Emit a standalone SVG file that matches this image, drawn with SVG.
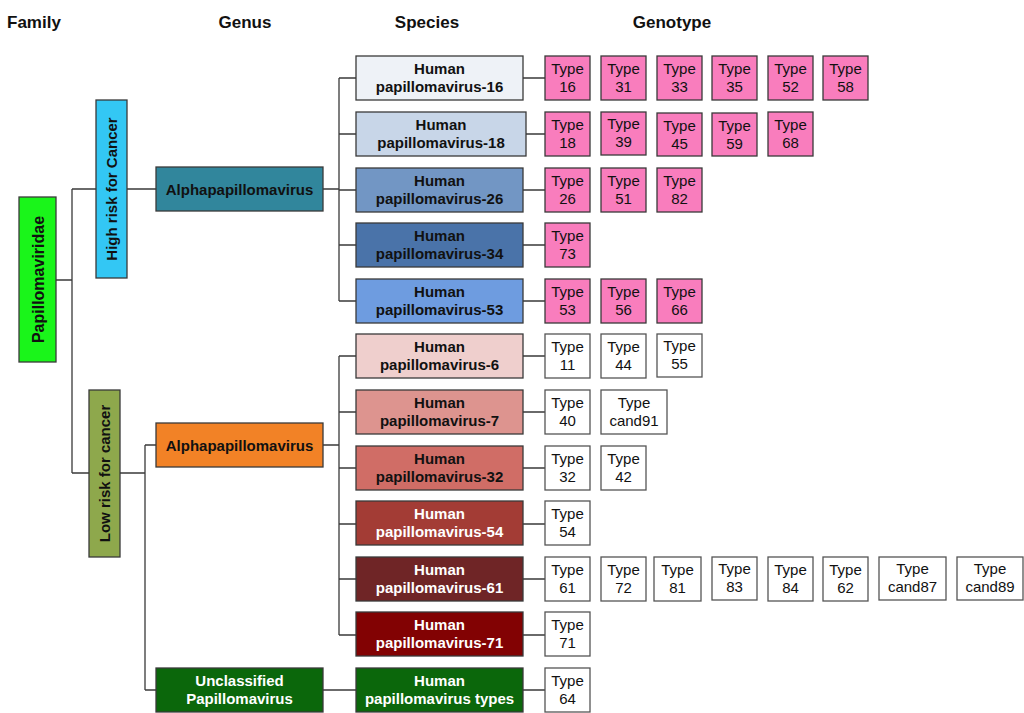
<svg xmlns="http://www.w3.org/2000/svg" width="1024" height="713" viewBox="0 0 1024 713">
<style>
.hdr{font-family:"Liberation Sans",Arial,sans-serif;font-weight:bold;font-size:17px;fill:#111}
.b{font-family:"Liberation Sans",Arial,sans-serif;font-weight:bold;font-size:15px;text-anchor:middle}
.t{font-family:"Liberation Sans",Arial,sans-serif;font-size:15px;text-anchor:middle;fill:#111}
.box{stroke:#3a3a3a;stroke-width:1.3}
.pink{fill:#f97dbd;stroke:#3a3a3a;stroke-width:1.3}
.white{fill:#fff;stroke:#555;stroke-width:1.3}
.blk{fill:#111}
.wht{fill:#fff}
#connectors path{fill:none;stroke:#3a3a3a;stroke-width:1.3}
</style>
<rect width="1024" height="713" fill="#fff"/>
<g id="headers">
<text class="hdr" x="7" y="28">Family</text>
<text class="hdr" x="245" y="28" text-anchor="middle">Genus</text>
<text class="hdr" x="427" y="28" text-anchor="middle">Species</text>
<text class="hdr" x="672" y="28" text-anchor="middle">Genotype</text>
</g>
<g id="connectors">
<path d="M56 280H72M72 189V473M72 189H96M72 473H89"/>
<path d="M127 189H156M323 189H339M339 78V301M339 78H356M339 134H356M339 190H356M339 245H356M339 301H356"/>
<path d="M120 473H145M145 445V690M145 445H156M145 690H156"/>
<path d="M323 445H339M339 356V635M339 356H356M339 412H356M339 468H356M339 524H356M339 579H356M339 635H356"/>
<path d="M323 690H356"/>
<path d="M523 78H545M526 134H545M523 190H545M523 245H545M523 301H545"/>
<path d="M523 356H545M523 412H545M523 468H545M523 524H545M523 579H545M523 635H545M523 690H545"/>
</g>
<g id="family">
<rect class="box" x="19" y="197" width="37" height="165" fill="#1af51a"/>
<text class="b blk" transform="translate(43.5 279.5) rotate(-90)" style="font-size:16px">Papillomaviridae</text>
</g>
<g id="high-risk">
<rect class="box" x="96" y="100" width="31" height="178" fill="#33c7f4"/>
<text class="b blk" transform="translate(117 189) rotate(-90)">High risk for Cancer</text>
</g>
<g id="low-risk">
<rect class="box" x="89" y="390" width="31" height="167" fill="#8ea84c"/>
<text class="b blk" transform="translate(110 473.5) rotate(-90)">Low risk for cancer</text>
</g>
<g id="genus-alpha-high">
<rect class="box" x="156" y="167" width="167" height="44" fill="#31869c"/>
<text class="b blk" x="239.5" y="194.5">Alphapapillomavirus</text>
</g>
<g id="genus-alpha-low">
<rect class="box" x="156" y="423" width="167" height="44" fill="#f28226"/>
<text class="b blk" x="239.5" y="450.5">Alphapapillomavirus</text>
</g>
<g id="genus-unclassified">
<rect class="box" x="156" y="668" width="167" height="44" fill="#0b670b"/>
<text class="b wht" x="239.5" y="686">Unclassified</text>
<text class="b wht" x="239.5" y="704">Papillomavirus</text>
</g>
<g id="hpv16"><rect class="box" x="356" y="56" width="167" height="44" fill="#eef2f7"/><text class="b blk" x="439.5" y="74">Human</text><text class="b blk" x="439.5" y="92">papillomavirus-16</text></g>
<g id="hpv18"><rect class="box" x="356" y="112" width="170" height="44" fill="#c8d6e8"/><text class="b blk" x="441" y="130">Human</text><text class="b blk" x="441" y="148">papillomavirus-18</text></g>
<g id="hpv26"><rect class="box" x="356" y="168" width="167" height="44" fill="#7296c4"/><text class="b blk" x="439.5" y="186">Human</text><text class="b blk" x="439.5" y="204">papillomavirus-26</text></g>
<g id="hpv34"><rect class="box" x="356" y="223" width="167" height="44" fill="#4a73a9"/><text class="b blk" x="439.5" y="241">Human</text><text class="b blk" x="439.5" y="259">papillomavirus-34</text></g>
<g id="hpv53"><rect class="box" x="356" y="279" width="167" height="44" fill="#6e9ce0"/><text class="b blk" x="439.5" y="297">Human</text><text class="b blk" x="439.5" y="315">papillomavirus-53</text></g>
<g id="hpv6"><rect class="box" x="356" y="334" width="167" height="44" fill="#efcfcd"/><text class="b blk" x="439.5" y="352">Human</text><text class="b blk" x="439.5" y="370">papillomavirus-6</text></g>
<g id="hpv7"><rect class="box" x="356" y="390" width="167" height="44" fill="#dd948f"/><text class="b blk" x="439.5" y="408">Human</text><text class="b blk" x="439.5" y="426">papillomavirus-7</text></g>
<g id="hpv32"><rect class="box" x="356" y="446" width="167" height="44" fill="#d06d66"/><text class="b blk" x="439.5" y="464">Human</text><text class="b blk" x="439.5" y="482">papillomavirus-32</text></g>
<g id="hpv54"><rect class="box" x="356" y="501" width="167" height="44" fill="#a33c35"/><text class="b wht" x="439.5" y="519">Human</text><text class="b wht" x="439.5" y="537">papillomavirus-54</text></g>
<g id="hpv61"><rect class="box" x="356" y="557" width="167" height="44" fill="#6f2526"/><text class="b wht" x="439.5" y="575">Human</text><text class="b wht" x="439.5" y="593">papillomavirus-61</text></g>
<g id="hpv71"><rect class="box" x="356" y="612" width="167" height="44" fill="#820203"/><text class="b wht" x="439.5" y="630">Human</text><text class="b wht" x="439.5" y="648">papillomavirus-71</text></g>
<g id="hpvtypes"><rect class="box" x="356" y="668" width="167" height="44" fill="#0b670b"/><text class="b wht" x="439.5" y="686">Human</text><text class="b wht" x="439.5" y="704">papillomavirus types</text></g>
<g id="types-hpv16">
<rect class="pink" x="545" y="56" width="45" height="44"/><text class="t" x="567.5" y="74">Type</text><text class="t" x="567.5" y="92">16</text>
<rect class="pink" x="601" y="56" width="45" height="44"/><text class="t" x="623.5" y="74">Type</text><text class="t" x="623.5" y="92">31</text>
<rect class="pink" x="657" y="56" width="45" height="44"/><text class="t" x="679.5" y="74">Type</text><text class="t" x="679.5" y="92">33</text>
<rect class="pink" x="712" y="56" width="45" height="44"/><text class="t" x="734.5" y="74">Type</text><text class="t" x="734.5" y="92">35</text>
<rect class="pink" x="768" y="56" width="45" height="44"/><text class="t" x="790.5" y="74">Type</text><text class="t" x="790.5" y="92">52</text>
<rect class="pink" x="823" y="56" width="45" height="44"/><text class="t" x="845.5" y="74">Type</text><text class="t" x="845.5" y="92">58</text>
</g>
<g id="types-hpv18">
<rect class="pink" x="545" y="112" width="45" height="44"/><text class="t" x="567.5" y="130">Type</text><text class="t" x="567.5" y="148">18</text>
<rect class="pink" x="601" y="112" width="45" height="43"/><text class="t" x="623.5" y="129">Type</text><text class="t" x="623.5" y="147">39</text>
<rect class="pink" x="657" y="113" width="45" height="43"/><text class="t" x="679.5" y="131">Type</text><text class="t" x="679.5" y="149">45</text>
<rect class="pink" x="712" y="113" width="45" height="43"/><text class="t" x="734.5" y="131">Type</text><text class="t" x="734.5" y="149">59</text>
<rect class="pink" x="768" y="112" width="45" height="44"/><text class="t" x="790.5" y="130">Type</text><text class="t" x="790.5" y="148">68</text>
</g>
<g id="types-hpv26">
<rect class="pink" x="545" y="168" width="45" height="44"/><text class="t" x="567.5" y="186">Type</text><text class="t" x="567.5" y="204">26</text>
<rect class="pink" x="601" y="168" width="45" height="44"/><text class="t" x="623.5" y="186">Type</text><text class="t" x="623.5" y="204">51</text>
<rect class="pink" x="657" y="168" width="45" height="44"/><text class="t" x="679.5" y="186">Type</text><text class="t" x="679.5" y="204">82</text>
</g>
<g id="types-hpv34">
<rect class="pink" x="545" y="223" width="45" height="44"/><text class="t" x="567.5" y="241">Type</text><text class="t" x="567.5" y="259">73</text>
</g>
<g id="types-hpv53">
<rect class="pink" x="545" y="279" width="45" height="44"/><text class="t" x="567.5" y="297">Type</text><text class="t" x="567.5" y="315">53</text>
<rect class="pink" x="601" y="279" width="45" height="44"/><text class="t" x="623.5" y="297">Type</text><text class="t" x="623.5" y="315">56</text>
<rect class="pink" x="657" y="279" width="45" height="44"/><text class="t" x="679.5" y="297">Type</text><text class="t" x="679.5" y="315">66</text>
</g>
<g id="types-hpv6">
<rect class="white" x="545" y="334" width="45" height="44"/><text class="t" x="567.5" y="352">Type</text><text class="t" x="567.5" y="370">11</text>
<rect class="white" x="601" y="334" width="45" height="44"/><text class="t" x="623.5" y="352">Type</text><text class="t" x="623.5" y="370">44</text>
<rect class="white" x="657" y="334" width="45" height="43"/><text class="t" x="679.5" y="351">Type</text><text class="t" x="679.5" y="369">55</text>
</g>
<g id="types-hpv7">
<rect class="white" x="545" y="390" width="45" height="44"/><text class="t" x="567.5" y="408">Type</text><text class="t" x="567.5" y="426">40</text>
<rect class="white" x="601" y="390" width="66" height="44"/><text class="t" x="634" y="408">Type</text><text class="t" x="634" y="426">cand91</text>
</g>
<g id="types-hpv32">
<rect class="white" x="545" y="446" width="45" height="44"/><text class="t" x="567.5" y="464">Type</text><text class="t" x="567.5" y="482">32</text>
<rect class="white" x="601" y="446" width="45" height="44"/><text class="t" x="623.5" y="464">Type</text><text class="t" x="623.5" y="482">42</text>
</g>
<g id="types-hpv54">
<rect class="white" x="545" y="501" width="45" height="44"/><text class="t" x="567.5" y="519">Type</text><text class="t" x="567.5" y="537">54</text>
</g>
<g id="types-hpv61">
<rect class="white" x="545" y="557" width="45" height="44"/><text class="t" x="567.5" y="575">Type</text><text class="t" x="567.5" y="593">61</text>
<rect class="white" x="601" y="557" width="45" height="44"/><text class="t" x="623.5" y="575">Type</text><text class="t" x="623.5" y="593">72</text>
<rect class="white" x="654" y="557" width="47" height="44"/><text class="t" x="677.5" y="575">Type</text><text class="t" x="677.5" y="593">81</text>
<rect class="white" x="712" y="557" width="45" height="43"/><text class="t" x="734.5" y="574">Type</text><text class="t" x="734.5" y="592">83</text>
<rect class="white" x="768" y="557" width="45" height="44"/><text class="t" x="790.5" y="575">Type</text><text class="t" x="790.5" y="593">84</text>
<rect class="white" x="823" y="557" width="45" height="44"/><text class="t" x="845.5" y="575">Type</text><text class="t" x="845.5" y="593">62</text>
<rect class="white" x="879" y="557" width="67" height="43"/><text class="t" x="912.5" y="574">Type</text><text class="t" x="912.5" y="592">cand87</text>
<rect class="white" x="957" y="557" width="66" height="43"/><text class="t" x="990" y="574">Type</text><text class="t" x="990" y="592">cand89</text>
</g>
<g id="types-hpv71">
<rect class="white" x="545" y="612" width="45" height="44"/><text class="t" x="567.5" y="630">Type</text><text class="t" x="567.5" y="648">71</text>
</g>
<g id="types-hpvtypes">
<rect class="white" x="545" y="668" width="45" height="44"/><text class="t" x="567.5" y="686">Type</text><text class="t" x="567.5" y="704">64</text>
</g>
</svg>
